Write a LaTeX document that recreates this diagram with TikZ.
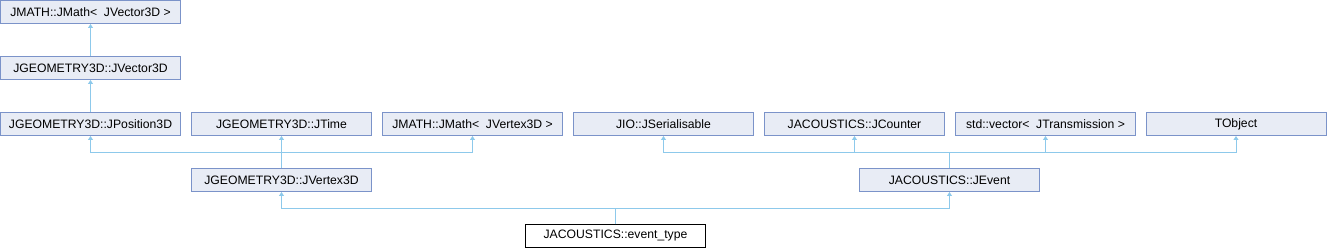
\documentclass[tikz,border=0pt]{standalone}
\usepackage{fontspec}
\setmainfont{Liberation Sans}
\usetikzlibrary{arrows.meta}
\definecolor{boxfill}{HTML}{E8ECF5}
\definecolor{boxdraw}{HTML}{7B93C9}
\definecolor{edgecol}{HTML}{8DC9EB}
\begin{document}
\begin{tikzpicture}[x=1pt,y=-1pt,
  cls/.style={draw=boxdraw,fill=boxfill,line width=1pt,minimum width=180pt,minimum height=23pt,inner sep=0pt,font=\fontsize{12.2}{14}\selectfont},
  main/.style={cls,draw=black,fill=white},
  inh/.style={draw=edgecol,line width=1pt,-{Triangle[length=4pt,width=5pt]}},
  plain/.style={draw=edgecol,line width=1pt}]
\useasboundingbox (0,0) rectangle (1327,248);
\node[cls] (jmv) at (90.5,12) {JMATH::JMath<\ \ JVector3D >};
\node[cls] (jv3) at (90.5,68) {JGEOMETRY3D::JVector3D};
\node[cls] (jp3) at (90.5,124) {JGEOMETRY3D::JPosition3D};
\node[cls] (jti) at (281.5,124) {JGEOMETRY3D::JTime};
\node[cls] (jmx) at (472.5,124) {JMATH::JMath<\ \ JVertex3D >};
\node[cls] (jse) at (663.5,124) {JIO::JSerialisable};
\node[cls] (jco) at (854.5,124) {JACOUSTICS::JCounter};
\node[cls] (svt) at (1045.5,124) {std::vector<\ \ JTransmission >};
\node[cls] (tob) at (1236,124) {TObject};
\node[cls] (vtx) at (281.5,180) {JGEOMETRY3D::JVertex3D};
\node[cls] (evt) at (949.5,180) {JACOUSTICS::JEvent};
\node[main] (ety) at (615.5,236) {JACOUSTICS::event\_type};
\coordinate (j1) at (0,152.5);
\coordinate (j2) at (0,208.5);
\draw[inh] (jv3.north) -- (jmv.south);
\draw[inh] (jp3.north) -- (jv3.south);
\draw[inh] (vtx.north) -- (vtx.north |- j1) -| (jp3.south);
\draw[inh] (vtx.north) -- (jti.south);
\draw[inh] (vtx.north) -- (vtx.north |- j1) -| (jmx.south);
\draw[inh] (evt.north) -- (evt.north |- j1) -| (jse.south);
\draw[inh] (evt.north) -- (evt.north |- j1) -| (jco.south);
\draw[inh] (evt.north) -- (evt.north |- j1) -| (svt.south);
\draw[inh] (evt.north) -- (evt.north |- j1) -| (tob.south);
\draw[inh] (ety.north) -- (ety.north |- j2) -| (vtx.south);
\draw[inh] (ety.north) -- (ety.north |- j2) -| (evt.south);
\end{tikzpicture}
\end{document}
